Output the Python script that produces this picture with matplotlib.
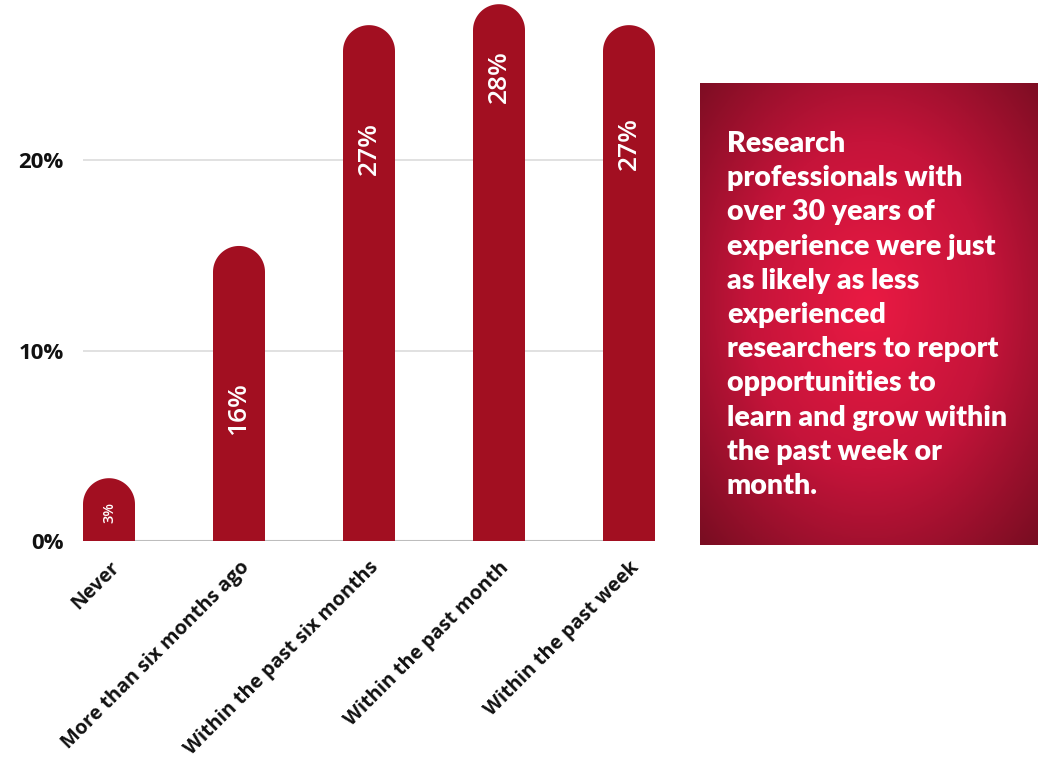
import matplotlib.pyplot as plt
import numpy as np
from matplotlib.path import Path
from matplotlib.patches import PathPatch
from matplotlib.colors import LinearSegmentedColormap

plt.rcParams['font.family'] = ['Open Sans', 'DejaVu Sans']

# data
categories = ['Never', 'More than six months ago', 'Within the past six months',
              'Within the past month', 'Within the past week']
values = [3.3, 15.5, 27.1, 28.2, 27.1]
value_labels = ['3%', '16%', '27%', '28%', '27%']
yticks = [0, 10, 20]
ytick_labels = ['0%', '10%', '20%']
note = ("Research\nprofessionals with\nover 30 years of\nexperience were just\n"
        "as likely as less\nexperienced\nresearchers to report\nopportunities to\n"
        "learn and grow within\nthe past week or\nmonth.")

bar_color = '#a20f21'
W, H = 1038, 764
fig = plt.figure(figsize=(W / 100, H / 100), dpi=100)
ax = fig.add_axes([83 / W, 1 - 541 / H, 572 / W, 541 / H])
ax.set_xlim(-0.2, 4.2)
ax.set_ylim(0, 28.42)

# rounded tops: half-width radius in pixels -> data units on each axis
pos = ax.get_position()
px_x = pos.width * W / 4.4
px_y = pos.height * H / 28.42
rx = 0.2
ry = rx * px_x / px_y

# where the value label sits, as a share of bar height
label_frac = [0.45, 0.45, 0.76, 0.865, 0.77]
label_size = [10.5, 19, 19, 19, 19]

t = np.linspace(np.pi, 0, 40)
for i, v in enumerate(values):
    verts = [(i - rx, 0), (i - rx, v - ry)]
    verts += list(zip(i + rx * np.cos(t), v - ry + ry * np.sin(t)))
    verts += [(i + rx, 0), (i - rx, 0)]
    codes = [Path.MOVETO] + [Path.LINETO] * (len(verts) - 2) + [Path.CLOSEPOLY]
    ax.add_patch(PathPatch(Path(verts, codes), facecolor=bar_color,
                           edgecolor='none', zorder=2, clip_on=False))
    ax.text(i, v * label_frac[i], value_labels[i], rotation=90, ha='center',
            va='center', color='white', fontsize=label_size[i],
            fontweight='semibold', zorder=3)

for y in yticks[1:]:
    ax.axhline(y, color='#dcdcdc', lw=1.2, zorder=0)
ax.axhline(0, color='#bdbdbd', lw=1.5, zorder=1)

for s in ax.spines.values():
    s.set_visible(False)
ax.set_yticks(yticks)
ax.set_yticklabels(ytick_labels, fontsize=16, fontweight='bold', color='#111111')
ax.tick_params(axis='y', length=0, pad=14)
ax.set_xticks(range(len(categories)))
ax.set_xticklabels(categories, rotation=45, ha='right', va='top',
                   rotation_mode='anchor', fontsize=14.2, fontweight='bold',
                   color='#111111')
ax.tick_params(axis='x', length=0, pad=12)

# note box with radial gradient
bx = fig.add_axes([700 / W, 1 - 545 / H, 338 / W, 462 / H])
yy, xx = np.mgrid[0:1:300j, 0:1:300j]
r = np.sqrt(((xx - 0.5) / 0.75) ** 2 + ((yy - 0.52) / 0.75) ** 2)
cmap = LinearSegmentedColormap.from_list('box', ['#ea1a43', '#c5143a', '#7a0d22'])
bx.imshow(r, cmap=cmap, vmin=0, vmax=0.95, aspect='auto', extent=[0, 1, 0, 1],
          origin='lower')
bx.axis('off')

fig.text(727 / W, 1 - 131 / H, note, color='white', fontsize=20.5,
         family=['Lato', 'DejaVu Sans'], fontweight='heavy', va='top',
         ha='left', linespacing=1.39)

fig.savefig('out.png', dpi=100)
